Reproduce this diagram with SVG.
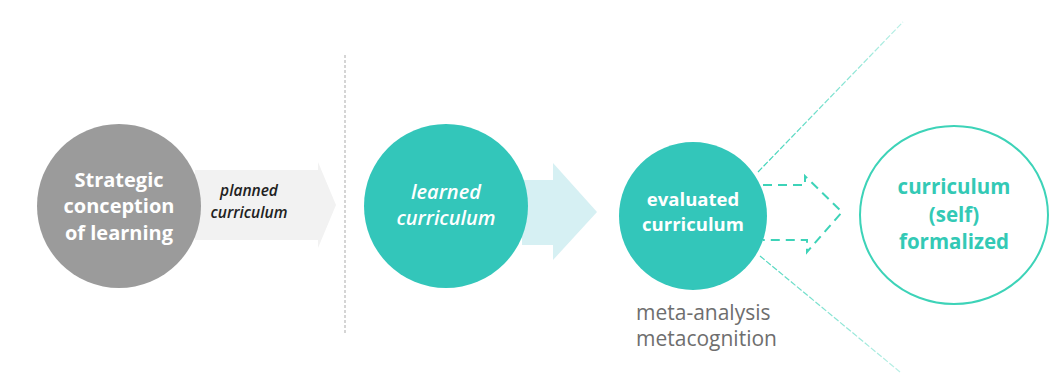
<svg xmlns="http://www.w3.org/2000/svg" width="1056" height="385" viewBox="0 0 1056 385">
<defs>
<style>
.lbl{font-family:"Open Sans","Liberation Sans",sans-serif;text-anchor:middle}
.w{fill:#ffffff;font-weight:700;font-size:20px}
.we{fill:#ffffff;font-weight:700;font-size:18.5px}
.wi{fill:#ffffff;font-weight:600;font-style:italic;font-size:20px}
.t{fill:#33c9b5;font-weight:700;font-size:20.5px}
.pi{fill:#222222;font-weight:600;font-style:italic;font-size:15.5px}
.g{font-family:"Open Sans","Liberation Sans",sans-serif;fill:#6e6e6e;font-size:21px}
.teal{fill:#33c6ba}
.dash{fill:none;stroke:#3dd3b8;stroke-width:2;stroke-dasharray:9 6}
</style>
<linearGradient id="fadeUp" x1="758" y1="172" x2="903" y2="22" gradientUnits="userSpaceOnUse">
<stop offset="0" stop-color="#3dd3b8" stop-opacity="1"/>
<stop offset="1" stop-color="#3dd3b8" stop-opacity="0.35"/>
</linearGradient>
<linearGradient id="fadeDn" x1="760" y1="256" x2="900" y2="372" gradientUnits="userSpaceOnUse">
<stop offset="0" stop-color="#3dd3b8" stop-opacity="0.9"/>
<stop offset="1" stop-color="#3dd3b8" stop-opacity="0.35"/>
</linearGradient>
</defs>
<rect width="1056" height="385" fill="#ffffff"/>
<g id="connectors">
<path d="M195 170 H318 V162 L336 205 L318 248 V240 H195 Z" fill="#f2f2f2"/>
<path d="M522 180 H553 V163 L597 212 L553 260 V245 H522 Z" fill="#d6f0f3"/>
<line x1="345" y1="55" x2="345" y2="335" stroke="#c8c8c8" stroke-width="1.5" stroke-dasharray="3 2"/>
<path class="dash" d="M763 185 H805 V176 L842 212 L807 252 V240 H763"/>
<line x1="758" y1="172" x2="903" y2="22" stroke="url(#fadeUp)" stroke-width="1.2" stroke-dasharray="6 2"/>
<line x1="760" y1="256" x2="900" y2="372" stroke="url(#fadeDn)" stroke-width="1.2" stroke-dasharray="6 2"/>
</g>
<g id="strategic">
<circle cx="119" cy="206" r="82" fill="#9b9b9b"/>
<text class="lbl w" x="119" y="187">Strategic</text>
<text class="lbl w" x="119" y="213">conception</text>
<text class="lbl w" x="119" y="240">of learning</text>
</g>
<g id="planned">
<text class="lbl pi" x="249" y="196">planned</text>
<text class="lbl pi" x="249" y="218">curriculum</text>
</g>
<g id="learned">
<circle cx="446" cy="206" r="82" class="teal"/>
<text class="lbl wi" x="446" y="199">learned</text>
<text class="lbl wi" x="446" y="225">curriculum</text>
</g>
<g id="evaluated">
<circle cx="693" cy="216" r="74" class="teal"/>
<text class="lbl we" x="693" y="206">evaluated</text>
<text class="lbl we" x="693" y="231">curriculum</text>
</g>
<g id="meta">
<text class="g" x="636" y="320">meta-analysis</text>
<text class="g" x="636" y="346">metacognition</text>
</g>
<g id="formalized">
<ellipse cx="954" cy="215" rx="94" ry="89" fill="none" stroke="#3dd3b8" stroke-width="2"/>
<text class="lbl t" x="954" y="194">curriculum</text>
<text class="lbl t" x="954" y="222">(self)</text>
<text class="lbl t" x="954" y="249">formalized</text>
</g>
</svg>
